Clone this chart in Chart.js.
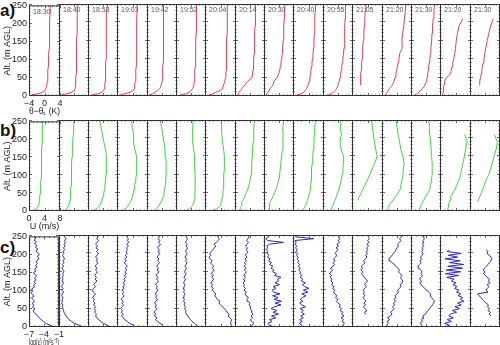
<!DOCTYPE html>
<html>
<head>
<meta charset="utf-8">
<script src="https://cdn.jsdelivr.net/npm/chart.js@4.4.0/dist/chart.umd.min.js"></script>
<style>
  html, body { margin: 0; padding: 0; background: #fff; }
  body { width: 500px; height: 345px; position: relative; overflow: hidden; font-family: 'Liberation Sans', Arial, sans-serif; }
  canvas { position: absolute; }
  .row-label { position: absolute; left: 0; font-size: 17px; line-height: 17px; font-weight: bold; color: #111; }
</style>
</head>
<body>
<div class="row-label" style="top:2px">a)</div>
<div class="row-label" style="top:122px">b)</div>
<div class="row-label" style="top:239px">c)</div>
<script>
// ====================== DATA ======================
const times = ['18:30', '18:40', '18:53', '19:03', '19:42', '19:52', '20:04', '20:14',
               '20:30', '20:40', '20:55', '21:05', '21:20', '21:30', '21:20', '21:30'];

const altTicks = [0, 50, 100, 150, 200, 250];
const thetaTicks = [-4, 0, 4];
const windTicks = [0, 4, 8];
const epsTicks = [-7, -4, -1];

// altitudes (m AGL) for the smooth profiles (a, b)
const altSmooth = [0, 3, 6, 10, 15, 20, 25, 30, 40, 50, 60, 70, 80, 90, 100, 115, 130, 150, 170, 190, 210, 230, 250];
// altitudes for the dissipation profiles (c)
const altTurb = [0, 5, 10, 15, 20, 25, 30, 35, 40, 45, 50, 55, 60, 65, 70, 75, 80, 85, 90, 95,
                 100, 105, 110, 115, 120, 125, 130, 135, 140, 145, 150, 155, 160, 165, 170, 175, 180, 185, 190, 195,
                 200, 205, 210, 215, 220, 225, 230, 235, 240, 245, 250];

// theta - theta_s (K)
const thetaDiff = [
  [-3.6,-3.4,-1.8,-0.6,0.1,0.35,0.5,0.6, 0.7,0.8,0.85,0.9,0.95,1.0,1.05, 1.1,1.2, 1.25,1.3,1.35,1.4,1.45,1.5],
  [-3.9,-3.3,-2.0,-0.6,0.1,0.25,0.35,0.4, 0.45,0.5,0.55,0.6,0.6,0.65,0.65, 0.7,0.7, 0.75,0.8,0.8,0.85,0.85,0.9],
  [-3.6,-2.8,-1.4,-0.3,0.2,0.35,0.45,0.5, 0.55,0.6,0.65,0.7,0.7,0.75,0.8, 0.8,0.85, 0.85,0.9,0.9,0.95,0.95,1.3],
  [-3.9,-3.2,-2.0,-0.6,0.2,0.4,0.5,0.6, 0.7,0.8,0.85,0.9,0.95,1.0,1.0, 1.05,1.05, 1.1,1.1,1.15,1.15,1.2,1.2],
  [-3.8,-3.3,-2.6,-1.9,-1.1,-0.6,-0.35,-0.2, 0.0,0.1,0.15,0.2,0.25,0.3,0.3, 0.35,0.35, 0.4,0.4,0.45,0.45,0.5,0.5],
  [-3.6,-2.6,-1.5,-0.5,0.1,0.4,0.6,0.75, 0.9,0.95,1.0,1.05,1.1,1.15,1.2, 1.25,1.3, 1.3,1.35,1.4,1.45,1.45,1.5],
  [-3.5,-2.8,-2.0,-1.2,0.0,0.4,0.6,0.8, 1.1,1.3,1.4,1.45,1.5,1.5,1.55, 1.6,1.6, 1.65,1.7,1.7,1.75,1.75,1.8],
  [-3.5,-3.3,-3.1,-2.9,-2.5,-2.2,-1.8,-1.4, -0.6,0.5,0.7,0.8,0.9,0.95,1.0, 1.1,1.15, 1.2,1.3,1.35,1.4,1.45,1.5],
  [-3.8,-3.5,-3.2,-2.9,-2.6,-2.4,-2.0,-1.6, -1.3,-0.5,-0.1,0.2,0.35,0.5,0.7, 0.85,0.95, 1.1,1.2,1.3,1.4,1.5,1.6],
  [-3.6,-2.8,-2.0,-1.2,-0.8,-0.5,-0.3,-0.1, 0.2,0.35,0.5,0.6,0.75,0.9,1.0, 1.15,1.3, 1.4,1.5,1.6,1.65,1.7,1.8],
  [-3.4,-2.6,-1.8,-1.2,-0.7,-0.4,-0.15,0.0, 0.3,0.55,0.7,0.85,1.0,1.15,1.3, 1.45,1.6, 1.7,1.8,1.85,1.9,1.95,2.0],
  [null,null,null,null,null,null,null,-1.9, -1.85,-1.75,-1.7,-1.6,-1.55,-1.5,-1.4, -1.3,-1.2, -1.1,-0.95,-0.85,-0.7,-0.6,-0.45],
  [-3.5,-3.2,-2.9,-2.6,-2.3,-2.1,-1.6,-1.2, -0.8,-0.5,-0.3,-0.1,0.1,0.3,0.5, 0.7,1.4, 1.3,1.5,1.8,2.0,2.2,2.4],
  [-3.4,-3.0,-2.5,-1.9,-1.4,-1.0,-0.6,-0.3, 0.1,0.3,0.45,0.6,0.7,0.85,1.0, 1.2,1.3, 1.5,1.6,1.75,1.9,2.1,2.3],
  [-3.3,-3.3,-3.25,-3.2,-3.2,-3.15,-3.0,-2.9, -2.8,-2.3,-1.3,-1.1,-0.9,-0.7,-0.5, -0.2,0.0, 0.2,0.5,0.9,1.9,null,null],
  [null,null,null,null,null,null,null,-1.55, -1.4,-1.2,-1.0,-0.85,-0.7,-0.5,-0.3, -0.05,0.2, 0.6,1.0,1.5,2.2,null,null]
];

// wind speed U (m/s)
const windSpeed = [
  [0.9,1.3,1.8,2.1,2.4,2.55,2.65,2.7, 2.8,2.9,2.95,3.0,3.05,3.1,3.1, 3.15,3.2, 3.3,3.35,3.4,3.4,3.45,3.5],
  [1.1,1.6,2.0,2.3,2.6,2.75,2.85,2.95, 3.05,3.1,3.15,3.2,3.25,3.3,3.3, 3.35,3.4, 3.5,3.6,3.7,3.8,3.9,4.0],
  [0.9,1.6,2.2,2.7,3.1,3.35,3.5,3.7, 4.0,4.2,4.4,4.5,4.6,4.7,4.8, 4.85,4.9, 4.9,4.7,4.2,3.85,3.5,3.1],
  [1.0,1.6,2.1,2.6,2.9,3.2,3.5,3.7, 4.0,4.2,4.4,4.55,4.7,4.85,5.0, 5.1,5.1, 5.0,4.6,4.2,4.3,3.9,3.8],
  [1.7,2.1,2.5,2.8,3.2,3.5,3.75,3.95, 4.3,4.5,4.7,4.85,4.95,5.0,5.1, 5.1,5.1, 5.0,4.8,4.5,4.2,3.9,3.5],
  [2.3,3.0,3.5,4.0,4.4,4.6,4.75,4.85, 5.0,5.05,5.1,5.1,5.1,5.1,5.1, 5.05,5.0, 4.95,4.7,4.45,4.4,4.5,4.6],
  [1.6,2.3,2.9,3.5,3.9,4.1,4.2,4.3, 4.5,4.6,4.7,4.75,4.8,4.85,4.9, 5.0,5.0, 5.0,4.8,4.5,4.35,4.3,4.3],
  [1.4,1.8,1.6,1.4,1.9,1.7,1.8,2.2, 2.6,3.0,3.4,3.7,3.9,4.1,4.3, 4.4,4.5, 4.6,4.7,4.8,4.95,5.05,5.2],
  [1.3,1.35,1.4,1.4,1.45,1.5,1.65,1.9, 2.4,2.8,3.2,3.55,3.8,4.0,4.15, 4.3,4.45, 4.7,4.9,5.05,5.1,5.0,5.3],
  [2.2,2.5,2.75,2.95,3.2,3.45,3.6,3.75, 4.05,4.3,4.45,4.55,4.65,4.7,4.75, 4.85,4.95, 5.1,5.25,5.4,5.5,5.6,5.8],
  [1.9,2.05,2.2,2.35,2.55,2.8,3.0,3.2, 3.6,3.9,4.25,4.5,4.75,4.95,5.1, 5.3,5.4, 5.5,4.8,4.5,4.9,4.6,4.8],
  [null,null,null,null,null,null,null,1.5, 1.9,2.4,2.8,3.3,3.75,4.2,4.6, 5.2,5.8, 6.5,6.1,5.8,5.5,5.3,5.0],
  [1.4,1.5,1.6,1.7,1.9,2.2,2.6,2.9, 3.6,4.3,4.8,5.0,5.2,5.4,5.55, 5.7,5.9, 5.6,5.0,4.7,4.3,4.0,3.7],
  [2.0,2.2,2.3,2.5,2.6,2.9,3.1,3.4, 3.9,4.6,5.0,5.2,5.35,5.5,5.6, 5.7,5.6, 5.5,5.4,5.2,5.05,4.9,4.75],
  [1.8,1.9,2.0,2.1,2.2,2.2,2.4,2.6, 2.8,3.3,3.9,4.3,4.7,5.1,5.3, 5.6,5.9, 6.3,6.6,7.0,6.4,null,null],
  [null,null,null,null,null,null,2.0,2.2, 2.6,3.0,3.4,3.8,4.1,4.5,5.0, 5.5,5.9, 6.4,7.0,7.3,6.5,null,null]
];

// log(epsilon) (m2 s-3)
const logEps = [
  [-1.9,-2.8,-3.6,-4.1,-4.5,-4.9,-5.3,-5.6,-5.9,-6.2,
   -5.8,-6.3,-6.0,-6.4,-5.9,-6.1,-6.5,-6.0,-6.3,-6.6,
   -6.2,-6.5,-5.9,-6.1,-5.7,-6.0,-5.6,-5.9,-5.5,-5.8,
   -6.1,-5.6,-5.9,-5.4,-5.7,-5.3,-5.6,-5.2,-5.0,-5.4,
   -4.9,-5.3,-5.6,-5.2,-5.7,-5.4,-5.9,-5.5,-6.0,-5.6, -5.8],
  [-2.1,-3.0,-3.9,-4.5,-5.0,-5.3,-5.6,-5.8,-6.0,-6.1,
   -6.2,-6.4,-6.2,-6.5,-6.3,-6.4,-6.2,-6.5,-6.3,-6.1,
   -6.4,-6.2,-6.5,-6.3,-6.1,-6.4,-6.2,-6.4,-6.1,-6.3,
   -6.0,-6.2,-6.4,-6.1,-6.3,-6.0,-6.2,-5.9,-6.1,-6.3,
   -6.0,-6.2,-5.9,-6.1,-5.8,-6.0,-5.7,-5.9,-5.6,-5.9, -6.1],
  [-2.6,-3.2,-3.9,-4.4,-4.9,-5.2,-5.5,-5.3,-5.7,-5.4,
   -5.8,-5.5,-5.9,-5.6,-6.0,-5.7,-6.1,-5.8,-5.5,-5.9,
   -6.2,-5.8,-5.5,-5.9,-5.6,-5.2,-5.6,-5.3,-5.7,-5.4,
   -5.1,-5.5,-5.2,-5.6,-5.3,-5.0,-5.4,-5.1,-5.5,-5.2,
   -4.9,-5.3,-5.0,-5.4,-5.1,-5.5,-5.2,-4.9,-5.3,-5.0, -5.4],
  [-3.5,-3.8,-4.6,-5.0,-5.5,-5.8,-6.1,-5.8,-6.2,-5.9,
   -6.3,-6.0,-5.7,-6.1,-5.8,-6.2,-5.9,-5.6,-6.0,-5.7,
   -6.1,-5.6,-5.9,-5.5,-5.8,-5.4,-5.7,-5.3,-5.6,-5.2,
   -5.5,-5.1,-5.4,-5.0,-5.3,-5.6,-5.2,-5.5,-5.1,-5.4,
   -5.0,-5.3,-4.9,-5.2,-4.8,-5.1,-4.7,-5.0,-4.8,-5.1, -4.9],
  [-4.3,-3.8,-4.4,-4.9,-5.3,-5.0,-5.5,-5.2,-5.6,-5.3,
   -5.0,-5.4,-5.1,-5.5,-5.2,-4.9,-5.3,-5.0,-5.4,-5.1,
   -4.8,-5.2,-4.9,-5.3,-5.0,-4.7,-5.1,-4.8,-5.2,-4.9,
   -4.6,-5.0,-4.7,-5.1,-4.8,-4.5,-4.9,-4.6,-5.0,-4.7,
   -4.4,-4.8,-4.5,-4.9,-4.6,-4.3,-4.7,-4.4,-4.8,-4.5, -4.7],
  [-2.3,-2.9,-3.3,-3.8,-4.1,-4.4,-4.7,-4.9,-5.1,-5.0,
   -5.3,-5.1,-5.4,-5.2,-5.5,-5.3,-5.6,-5.4,-5.2,-5.5,
   -5.3,-5.6,-5.4,-5.2,-5.5,-5.3,-5.1,-5.4,-5.2,-5.0,
   -5.3,-5.1,-4.9,-5.2,-5.0,-4.8,-5.1,-4.9,-5.2,-5.0,
   -4.8,-5.1,-4.9,-4.7,-5.0,-4.8,-5.1,-4.9,-4.7,-5.0, -4.8],
  [-1.7,-1.9,-2.1,-2.0,-1.8,-2.2,-2.5,-2.4,-2.7,-2.9,
   -3.3,-3.6,-4.0,-4.3,-4.1,-4.6,-4.8,-5.1,-4.9,-5.3,
   -5.6,-5.4,-5.8,-5.5,-5.9,-5.6,-5.3,-5.7,-5.4,-5.8,
   -5.5,-5.2,-5.6,-5.3,-5.7,-5.9,-5.6,-6.0,-6.2,-5.9,
   -6.1,-5.8,-5.5,-5.2,-4.9,-5.3,-4.8,-4.5,-4.2,-4.6, -4.1],
  [-3.9,-3.6,-3.2,-3.7,-3.9,-3.5,-3.8,-3.4,-3.7,-3.6,
   -4.0,-3.8,-4.2,-4.0,-4.4,-4.6,-4.3,-4.8,-5.0,-4.7,
   -5.2,-4.9,-5.3,-5.1,-5.4,-5.0,-5.3,-4.9,-5.2,-5.0,
   -4.7,-5.1,-4.8,-5.2,-4.9,-5.1,-4.7,-5.0,-4.6,-4.9,
   -4.7,-4.4,-4.8,-4.5,-4.9,-4.6,-4.3,-4.7,-4.4,-4.2, -4.4],
  [-5.0,-5.9,-6.2,-5.4,-5.9,-4.6,-5.5,-4.1,-5.2,-4.4,
   -5.6,-4.9,-3.6,-4.8,-3.5,-5.0,-4.2,-5.3,-3.8,-5.1,
   -5.4,-4.6,-5.2,-3.9,-4.8,-4.1,-4.3,-3.6,-4.9,-4.5,
   -5.3,-5.0,-5.6,-5.2,-5.9,-5.5,-6.1,-5.8,-6.3,-6.0,
   -6.4,-6.2,-6.5,-6.3,-6.4,-5.9,-3.1,-6.3,-6.6,-6.1, -6.4],
  [-5.7,-5.3,-5.8,-5.2,-5.7,-5.0,-5.5,-4.8,-5.4,-5.0,
   -5.6,-4.6,-5.3,-5.7,-5.1,-5.6,-5.2,-4.5,-5.3,-4.1,
   -5.0,-3.9,-4.8,-5.2,-4.6,-5.4,-5.1,-5.6,-5.3,-5.7,
   -5.5,-5.9,-5.6,-6.0,-5.7,-6.1,-5.9,-6.2,-6.0,-6.3,
   -6.1,-6.4,-6.2,-6.5,-6.3,-6.6,-6.4,-6.6,-3.0,-6.5, -6.7],
  [-2.8,-3.1,-2.7,-3.2,-2.9,-3.4,-2.8,-3.3,-3.0,-3.6,
   -3.3,-3.8,-3.5,-4.0,-4.3,-4.0,-4.5,-4.2,-4.7,-4.9,
   -4.6,-5.1,-4.8,-5.3,-5.0,-5.4,-5.2,-5.6,-5.3,-5.7,
   -5.4,-5.1,-5.5,-5.0,-4.7,-5.0,-4.6,-4.9,-4.5,-4.2,
   -4.6,-4.3,-4.0,-4.4,-3.9,-4.2,-3.7,-4.0,-3.6,-3.9, -3.5],
  [null,null,null,null,null,null,null,-4.3,-4.6,-4.1,
   -4.5,-4.8,-4.4,-4.7,-4.3,-4.6,-4.9,-4.5,-4.8,-4.6,
   -4.9,-4.5,-4.2,-4.6,-4.3,-4.0,-4.3,-4.6,-4.9,-5.2,
   -4.9,-5.3,-5.0,-5.2,-4.8,-4.5,-4.8,-4.4,-4.1,-4.4,
   -4.0,-4.3,-3.9,-4.2,-3.8,-4.1,-3.7,-4.0,-3.6,-3.9, -3.7],
  [-5.8,-6.1,-5.7,-6.0,-5.5,-5.9,-5.3,-5.0,-5.3,-4.9,
   -4.6,-4.9,-4.5,-4.7,-4.3,-4.6,-4.2,-4.4,-4.0,-3.7,
   -3.9,-3.5,-3.2,-3.4,-3.0,-2.8,-3.1,-3.3,-3.0,-3.4,
   -3.7,-3.5,-3.9,-4.2,-4.6,-5.0,-5.4,-5.6,-5.3,-5.0,
   -4.7,-4.4,-4.2,-4.0,-3.7,-3.9,-3.5,-3.2,-3.5,-3.1, -3.3],
  [-5.1,-4.8,-5.2,-4.7,-4.9,-4.4,-4.6,-4.1,-3.9,-3.6,
   -3.3,-3.0,-2.7,-2.5,-2.3,-2.6,-2.9,-3.2,-3.1,-3.5,
   -3.8,-4.3,-4.6,-5.0,-5.2,-4.9,-5.3,-5.0,-4.7,-5.0,
   -4.8,-5.1,-5.4,-5.6,-5.3,-5.0,-5.2,-4.9,-5.1,-4.8,
   -4.6,-4.9,-4.6,-4.8,-4.5,-4.7,-4.4,-4.6,-4.3,-4.6, -4.4],
  [-6.0,-5.2,-6.1,-4.8,-5.6,-4.4,-5.3,-5.0,-3.8,-4.6,
   -3.2,-4.1,-2.9,-3.6,-2.4,-3.1,-2.6,-3.5,-3.0,-3.8,
   -3.3,-4.2,-3.7,-4.5,-3.9,-4.8,-4.3,-5.7,-3.4,-6.0,
   -3.0,-5.8,-2.6,-5.5,-2.4,-5.2,-3.1,-6.0,-3.6,-5.4,
   -2.9,-5.6,-5.3,null,null,null,null,null,null,null, null],
  [null,null,null,null,null,null,-2.8,-3.2,-2.9,-3.4,
   -3.1,-3.5,-3.3,-3.8,-4.1,-4.5,-4.8,-5.2,-5.5,-3.4,
   -3.8,-3.5,-3.2,-3.6,-3.0,-3.3,-3.1,-3.6,-3.9,-4.3,
   -4.0,-4.4,-4.1,-3.7,-3.4,-3.1,-2.9,-2.6,-2.8,-3.2,
   -3.6,-3.4,-3.8,null,null,null,null,null,null,null, null]
];

// ====================== LAYOUT ======================
const FONT = "'Liberation Sans', Arial, sans-serif";
const INK = '#222';

const rows = [
  { top: 4,   bottom: 95,  values: thetaDiff, alts: altSmooth, ticks: thetaTicks, color: 'rgb(228,64,76)',  title: 'θ−θₛ (K)', showTimes: true },
  { top: 120, bottom: 210, values: windSpeed, alts: altSmooth, ticks: windTicks,  color: 'rgb(60,212,60)',  title: 'U (m/s)' },
  { top: 235, bottom: 326, values: logEps,    alts: altTurb,   ticks: epsTicks,   color: 'rgb(38,38,210)',  title: 'log(ε) (m²s⁻³)' }
];

const panelLeft = (i) => Math.round(29.3 + 29.35 * i);

// frame + inward ticks on all four sides, like the original IDL plot
function frameTicks(row, label) {
    return {
        id: 'frameTicks',
        afterDraw(chart) {
            const { ctx, chartArea: a, scales: { x, y } } = chart;
            ctx.save();
            ctx.strokeStyle = '#666';
            ctx.lineWidth = 1;
            ctx.beginPath();
            for (let v = altTicks[0]; v <= altTicks[altTicks.length - 1]; v += 10) {
                const py = Math.round(y.getPixelForValue(v)) - 0.5;
                const len = altTicks.includes(v) ? 3 : 1.5;
                ctx.moveTo(a.left, py); ctx.lineTo(a.left + len, py);
                ctx.moveTo(a.right, py); ctx.lineTo(a.right - len, py);
            }
            const xt = row.ticks;
            for (let v = xt[0]; v <= xt[xt.length - 1]; v += 1) {
                const px = Math.round(x.getPixelForValue(v)) + 0.5;
                const len = xt.includes(v) ? 3 : 1.5;
                ctx.moveTo(px, a.bottom); ctx.lineTo(px, a.bottom - len);
                ctx.moveTo(px, a.top); ctx.lineTo(px, a.top + len);
            }
            ctx.stroke();
            ctx.strokeStyle = '#333';
            ctx.strokeRect(a.left + 0.5, a.top + 0.5, a.right - a.left - 1, a.bottom - a.top - 1);
            if (label) {
                ctx.fillStyle = '#555';
                ctx.font = `7px ${FONT}`;
                ctx.textBaseline = 'top';
                ctx.fillText(label, a.left + 4, a.top + 3);
            }
            ctx.restore();
        }
    };
}

function makePanel(row, i) {
    const first = i === 0;
    const left = panelLeft(i);
    const right = panelLeft(i + 1);
    const padTop = first ? 6 : 0;
    const padRight = first ? 6 : 0;
    const axisW = first ? 30 : 0;
    const axisH = first ? 24 : 0;

    const canvas = document.createElement('canvas');
    canvas.width = axisW + (right - left + 1) + padRight;
    canvas.height = padTop + (row.bottom - row.top + 1) + axisH;
    canvas.style.left = (left - axisW) + 'px';
    canvas.style.top = (row.top - padTop) + 'px';
    document.body.appendChild(canvas);

    const points = row.values[i]
        .map((v, k) => ({ x: v, y: row.alts[k] }))
        .filter(p => p.x !== null);

    const tickFont = { family: FONT, size: 9 };

    new Chart(canvas, {
        type: 'scatter',
        data: {
            datasets: [{
                data: points,
                showLine: true,
                borderColor: row.color,
                borderWidth: 1,
                pointRadius: 0,
                tension: 0
            }]
        },
        options: {
            responsive: false,
            animation: false,
            devicePixelRatio: 1,
            events: [],
            layout: { padding: { top: padTop, right: padRight, left: 0, bottom: 0 } },
            plugins: { legend: { display: false }, tooltip: { enabled: false } },
            scales: {
                x: {
                    type: 'linear',
                    display: first,
                    min: row.ticks[0],
                    max: row.ticks[row.ticks.length - 1],
                    afterBuildTicks: (ax) => { ax.ticks = row.ticks.map(v => ({ value: v })); },
                    afterFit: (ax) => { ax.height = axisH; },
                    grid: { display: false, drawTicks: false },
                    border: { display: false },
                    ticks: {
                        padding: 2, color: INK, font: tickFont, maxRotation: 0, autoSkip: false,
                        callback: (v) => String(v).replace('-', '\u2212')
                    },
                    title: { display: true, text: row.title, color: INK, font: tickFont, padding: { top: 0, bottom: 3 } }
                },
                y: {
                    type: 'linear',
                    display: first,
                    min: altTicks[0],
                    max: altTicks[altTicks.length - 1],
                    afterBuildTicks: (ax) => { ax.ticks = altTicks.map(v => ({ value: v })); },
                    afterFit: (ax) => { ax.width = axisW; },
                    grid: { display: false, drawTicks: false },
                    border: { display: false },
                    ticks: { padding: 2, color: INK, font: tickFont, autoSkip: false },
                    title: { display: true, text: 'Alt. (m AGL)', color: INK, font: tickFont, padding: { top: 3, bottom: 0 } }
                }
            }
        },
        plugins: [frameTicks(row, row.showTimes ? times[i] : null)]
    });
}

document.addEventListener('DOMContentLoaded', () => {
    rows.forEach(row => {
        row.values.forEach((_, i) => makePanel(row, i));
    });
});
</script>
</body>
</html>
